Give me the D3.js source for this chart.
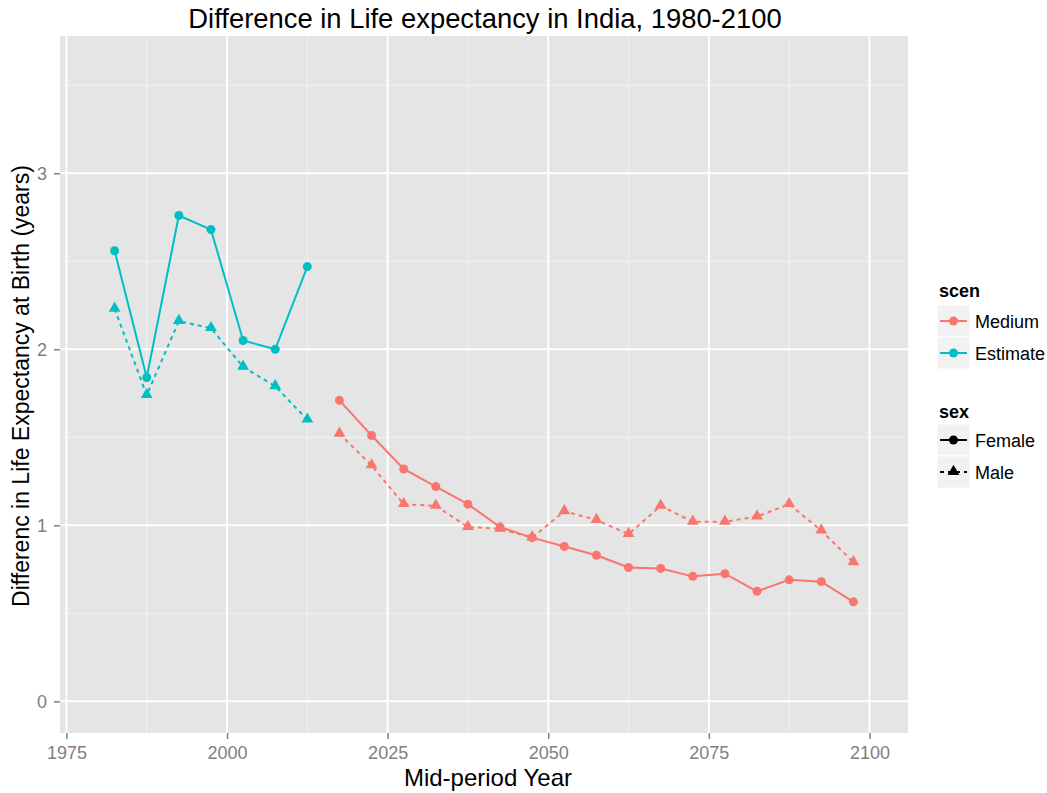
<!DOCTYPE html>
<html>
<head>
<meta charset="utf-8">
<script src="https://cdn.jsdelivr.net/npm/d3@7"></script>
<style>
  body { margin: 0; background: #fff; }
  text { font-family: "Liberation Sans", Arial, sans-serif; }
</style>
</head>
<body>
<div id="chart"></div>
<script>
// data
var estYears = [1982.5, 1987.5, 1992.5, 1997.5, 2002.5, 2007.5, 2012.5];
var estFemale = [2.56, 1.84, 2.76, 2.68, 2.05, 2.00, 2.47];
var estMale = [2.23, 1.74, 2.16, 2.12, 1.90, 1.79, 1.60];

var medYears = [2017.5, 2022.5, 2027.5, 2032.5, 2037.5, 2042.5, 2047.5, 2052.5, 2057.5,
                2062.5, 2067.5, 2072.5, 2077.5, 2082.5, 2087.5, 2092.5, 2097.5];
var medFemale = [1.71, 1.51, 1.32, 1.22, 1.12, 0.99, 0.93, 0.88, 0.83,
                 0.76, 0.755, 0.71, 0.725, 0.625, 0.69, 0.68, 0.565];
var medMale = [1.52, 1.34, 1.12, 1.11, 0.99, 0.98, 0.93, 1.08, 1.03,
               0.95, 1.11, 1.02, 1.02, 1.05, 1.12, 0.97, 0.79];

var xTicks = [1975, 2000, 2025, 2050, 2075, 2100];
var yTicks = [0, 1, 2, 3];
var xMinor = [1987.5, 2012.5, 2037.5, 2062.5, 2087.5];
var yMinor = [0.5, 1.5, 2.5, 3.5];

var scenNames = ["Medium", "Estimate"];
var scenColors = ["#F8766D", "#00BFC4"];
var sexNames = ["Female", "Male"];

var width = 1047, height = 793;
var panel = {left: 60, right: 908, top: 36, bottom: 733};

var svg = d3.select("#chart").append("svg")
    .attr("width", width).attr("height", height);

var x = d3.scaleLinear().domain([1974, 2106]).range([panel.left, panel.right]);
var y = d3.scaleLinear().domain([-0.18, 3.78]).range([panel.bottom, panel.top]);

// panel background
svg.append("rect")
    .attr("x", panel.left).attr("y", panel.top)
    .attr("width", panel.right - panel.left).attr("height", panel.bottom - panel.top)
    .attr("fill", "#e5e5e5");

// minor grid
svg.selectAll(".xminor").data(xMinor).enter().append("line")
    .attr("x1", x).attr("x2", x).attr("y1", panel.top).attr("y2", panel.bottom)
    .attr("stroke", "#f2f2f2").attr("stroke-width", 1);
svg.selectAll(".yminor").data(yMinor).enter().append("line")
    .attr("y1", y).attr("y2", y).attr("x1", panel.left).attr("x2", panel.right)
    .attr("stroke", "#f2f2f2").attr("stroke-width", 1);

// major grid
svg.selectAll(".xmajor").data(xTicks).enter().append("line")
    .attr("x1", x).attr("x2", x).attr("y1", panel.top).attr("y2", panel.bottom)
    .attr("stroke", "#fff").attr("stroke-width", 2);
svg.selectAll(".ymajor").data(yTicks).enter().append("line")
    .attr("y1", y).attr("y2", y).attr("x1", panel.left).attr("x2", panel.right)
    .attr("stroke", "#fff").attr("stroke-width", 2);

// axes
var xAxis = svg.append("g")
    .attr("transform", "translate(0," + panel.bottom + ")")
    .call(d3.axisBottom(x).tickValues(xTicks).tickFormat(d3.format("d")).tickSize(6).tickPadding(7));
var yAxis = svg.append("g")
    .attr("transform", "translate(" + panel.left + ",0)")
    .call(d3.axisLeft(y).tickValues(yTicks).tickFormat(d3.format("d")).tickSize(6).tickPadding(7));
[xAxis, yAxis].forEach(function (g) {
    g.attr("font-size", 18).attr("font-family", "Liberation Sans, Arial, sans-serif");
    g.select(".domain").remove();
    g.selectAll(".tick line").attr("stroke", "#7f7f7f").attr("stroke-width", 1.5);
    g.selectAll(".tick text").attr("fill", "#7f7f7f");
});

// series
var series = [
    {years: estYears, vals: estFemale, scen: 1, sex: 0},
    {years: estYears, vals: estMale, scen: 1, sex: 1},
    {years: medYears, vals: medFemale, scen: 0, sex: 0},
    {years: medYears, vals: medMale, scen: 0, sex: 1}
];

var line = d3.line().x(function (d) { return x(d[0]); }).y(function (d) { return y(d[1]); });
var tri = d3.symbol().type(d3.symbolTriangle).size(60);

series.forEach(function (s) {
    var pts = s.years.map(function (yr, i) { return [yr, s.vals[i]]; });
    var col = scenColors[s.scen];
    svg.append("path").datum(pts)
        .attr("d", line)
        .attr("fill", "none")
        .attr("stroke", col)
        .attr("stroke-width", 2)
        .attr("stroke-dasharray", s.sex == 1 ? "4,4" : null);
    if (s.sex == 0) {
        svg.selectAll(null).data(pts).enter().append("circle")
            .attr("cx", function (d) { return x(d[0]); })
            .attr("cy", function (d) { return y(d[1]); })
            .attr("r", 4.5).attr("fill", col);
    } else {
        svg.selectAll(null).data(pts).enter().append("path")
            .attr("d", tri)
            .attr("transform", function (d) { return "translate(" + x(d[0]) + "," + (y(d[1]) - 0.5) + ")"; })
            .attr("fill", col);
    }
});

// title and axis labels
svg.append("text")
    .attr("x", 485).attr("y", 28)
    .attr("text-anchor", "middle").style("font-size", "27.4px").attr("fill", "#000")
    .text("Difference in Life expectancy in India, 1980-2100");
svg.append("text")
    .attr("x", 488).attr("y", 786)
    .attr("text-anchor", "middle").style("font-size", "24px").attr("fill", "#000")
    .text("Mid-period Year");
svg.append("text")
    .attr("transform", "translate(29," + 386 + ") rotate(-90)")
    .attr("text-anchor", "middle").style("font-size", "23px").attr("fill", "#000")
    .text("Differenc in Life Expectancy at Birth (years)");

// legends
var lgX = 937, keyW = 33, keyH = 32;
function legendKey(yTop, col, sex, label) {
    var g = svg.append("g").attr("transform", "translate(" + lgX + "," + yTop + ")");
    g.append("rect").attr("width", keyW).attr("height", keyH)
        .attr("fill", "#f2f2f2").attr("stroke", "#fff").attr("stroke-width", 1);
    g.append("line").attr("x1", 3).attr("x2", keyW - 3)
        .attr("y1", keyH / 2).attr("y2", keyH / 2)
        .attr("stroke", col).attr("stroke-width", 2)
        .attr("stroke-dasharray", sex == 1 ? "4,4" : null);
    if (sex == 1) {
        g.append("path").attr("d", tri)
            .attr("transform", "translate(" + keyW / 2 + "," + (keyH / 2 - 0.5) + ")").attr("fill", col);
    } else {
        g.append("circle").attr("cx", keyW / 2).attr("cy", keyH / 2).attr("r", 4.5).attr("fill", col);
    }
    g.append("text").attr("x", keyW + 5).attr("y", keyH / 2 + 6.5)
        .style("font-size", "18px").attr("fill", "#000").text(label);
}

svg.append("text").attr("x", lgX + 2).attr("y", 297)
    .style("font-size", "18px").style("font-weight", "bold").text("scen");
scenNames.forEach(function (n, i) { legendKey(305 + i * keyH, scenColors[i], 0, n); });

svg.append("text").attr("x", lgX + 2).attr("y", 418)
    .style("font-size", "18px").style("font-weight", "bold").text("sex");
sexNames.forEach(function (n, i) { legendKey(424 + i * keyH, "#000", i, n); });
</script>
</body>
</html>
